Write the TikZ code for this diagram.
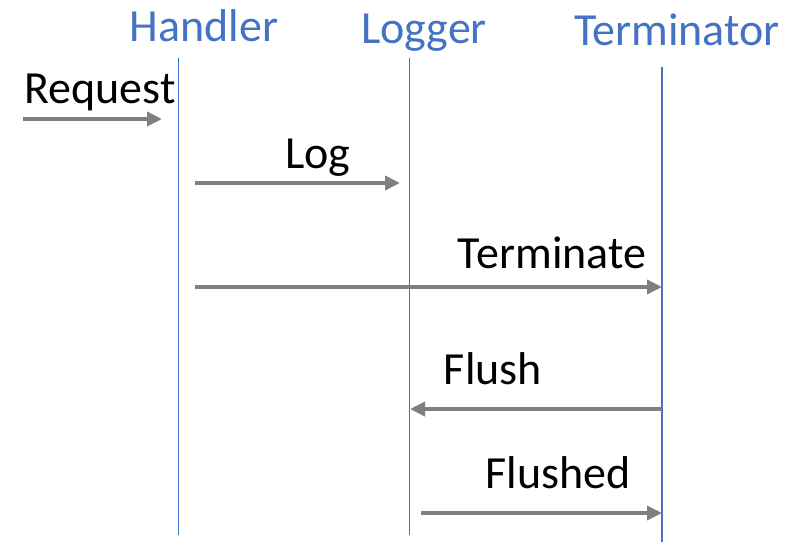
\documentclass[tikz,border=0pt]{standalone}
\usepackage{fontspec}
\setmainfont{Carlito}
\usetikzlibrary{arrows.meta}
\definecolor{lifeblue}{HTML}{4472C4}
\definecolor{msggray}{HTML}{7F7F7F}

\begin{document}
\begin{tikzpicture}[x=1pt,y=-1pt,->,>={Triangle[length=15pt,width=14pt]},
                    font=\fontsize{46}{55}\selectfont]
  \tikzstyle{life}=[draw=lifeblue,line width=1.3pt,-]
  \tikzstyle{msg}=[draw=msggray,fill=msggray,line width=3.5pt]
  \tikzstyle{head}=[text=lifeblue,anchor=base,inner sep=0pt]
  \tikzstyle{lbl}=[text=black,anchor=base,inner sep=0pt]

  \useasboundingbox (0,0) rectangle (795,542);

  % participants
  \node[head] (handler) at (204,41) {Handler};
  \node[head] (logger)  at (424,43) {Logger};
  \node[head] (term)    at (677,45) {Terminator};

  % lifelines
  \coordinate (h top) at (178.5,58);  \coordinate (h bot) at (178.5,535);
  \coordinate (l top) at (409.5,58);  \coordinate (l bot) at (409.5,535);
  \coordinate (t top) at (662,67);    \coordinate (t bot) at (662,542);
  \draw[life] (h top) -- (h bot);
  \draw[life] (l top) -- (l bot);
  \draw[life] (t top) -- (t bot);

  % message ends
  \coordinate (req a) at (23,119);   \coordinate (req b) at (162,119);
  \coordinate (log a) at (195,183);  \coordinate (log b) at (400,183);
  \coordinate (trm a) at (195,287);  \coordinate (trm b) at (662,287);
  \coordinate (fl a)  at (662,409);  \coordinate (fl b)  at (410,409);
  \coordinate (fd a)  at (421,513);  \coordinate (fd b)  at (662,513);

  \node[lbl] (request)  at (100,103) {Request};
  \node[lbl] (log)      at (318,168) {Log};
  \node[lbl] (terminate) at (552,268) {Terminate};
  \node[lbl] (flush)    at (493,384) {Flush};
  \node[lbl] (flushed)  at (558,488) {Flushed};

  \path (req a) edge[msg] (req b)
        (log a) edge[msg] (log b)
        (trm a) edge[msg] (trm b)
        (fl a)  edge[msg] (fl b)
        (fd a)  edge[msg] (fd b);
\end{tikzpicture}
\end{document}
